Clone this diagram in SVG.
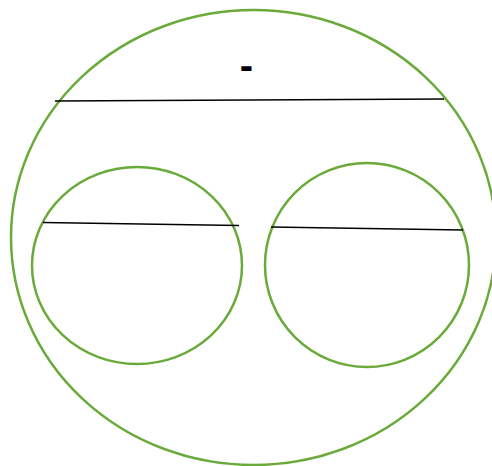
<svg xmlns="http://www.w3.org/2000/svg" width="492" height="466" viewBox="0 0 492 466">
<style>
.c{fill:none;stroke:#6aaa3a;stroke-width:2.5}
.l{stroke:#000;stroke-width:1.3}
.t{font-family:"Liberation Sans",Arial,sans-serif;font-weight:bold;font-size:40px;text-anchor:middle;fill:#000}
</style>
<rect width="492" height="466" fill="#fff"/>
<g id="outer">
<ellipse class="c" cx="253.5" cy="237.5" rx="242.5" ry="227.5"/>
<text class="t" x="246.5" y="79">-</text>
</g>
<g id="left">
<ellipse class="c" cx="137" cy="265.5" rx="105" ry="98.5"/>
</g>
<g id="right">
<ellipse class="c" cx="367" cy="265" rx="102" ry="102"/>
</g>
<g id="connectors">
<line class="l" x1="55" y1="101" x2="444" y2="99"/>
<line class="l" x1="43" y1="222.5" x2="239" y2="225.5"/>
<line class="l" x1="271" y1="227" x2="463" y2="230"/>
</g>
</svg>
